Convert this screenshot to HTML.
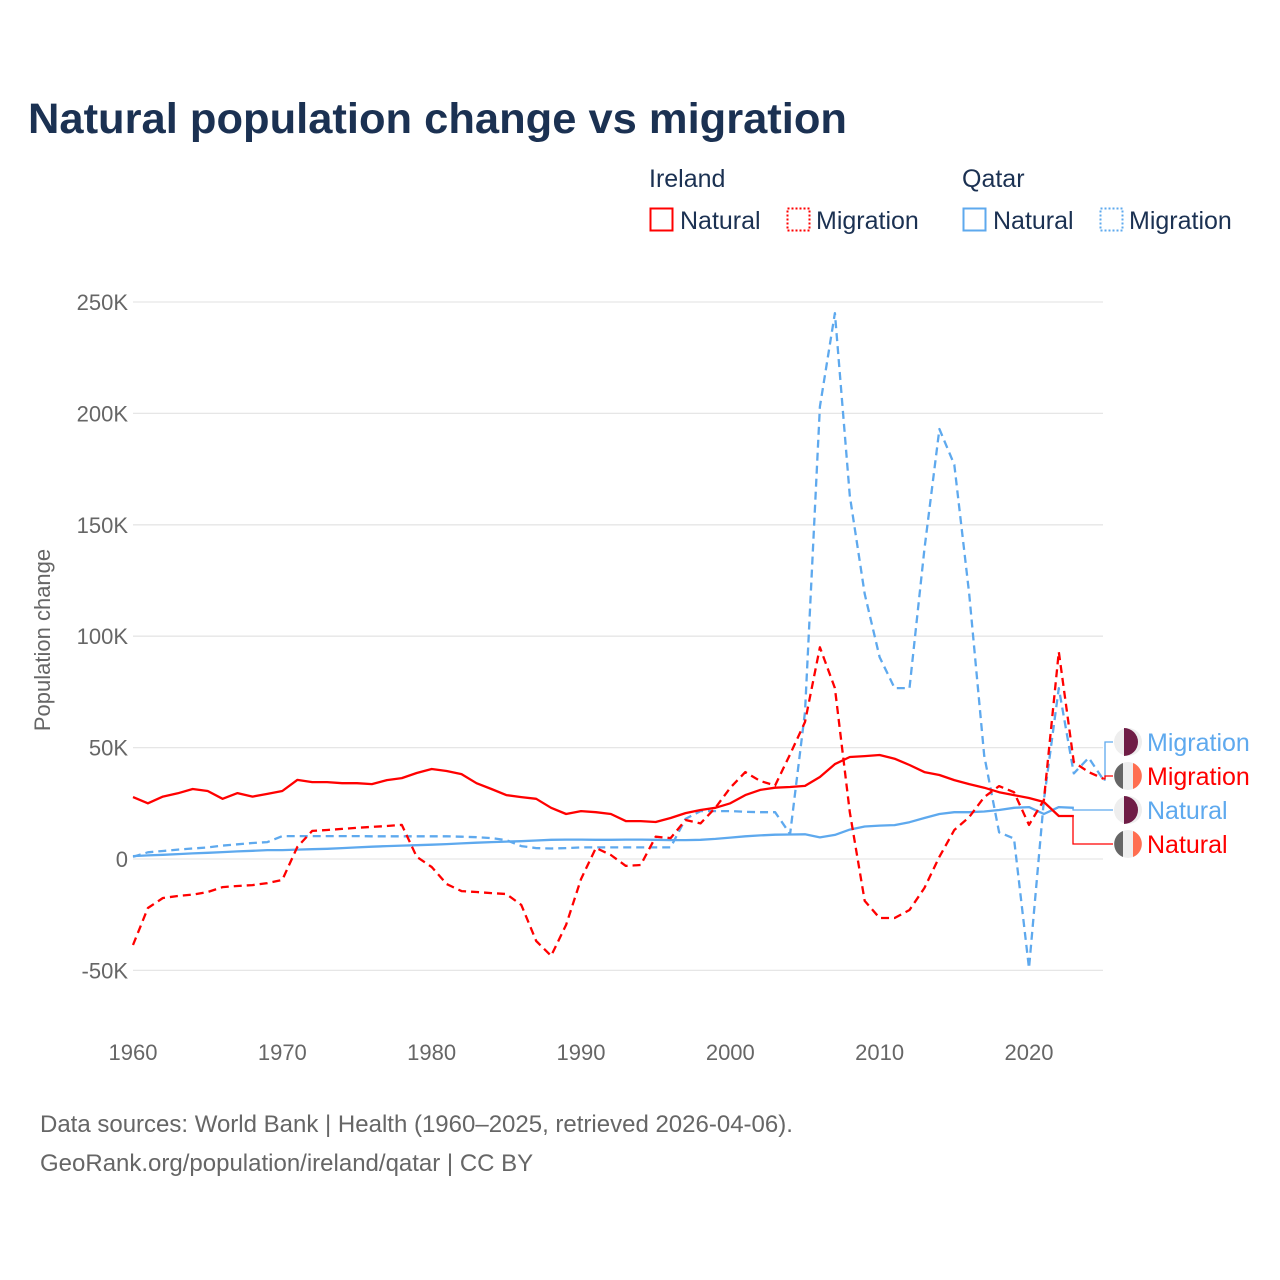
<!DOCTYPE html>
<html><head><meta charset="utf-8"><style>
body{margin:0;background:#fff;font-family:"Liberation Sans",sans-serif}
#wrap{position:relative;width:1280px;height:1280px;overflow:hidden}
</style></head><body>
<div id="wrap">
<svg id="chart" width="1280" height="1280" xmlns="http://www.w3.org/2000/svg">
<text x="28" y="133" font-size="43" font-weight="bold" fill="#1b3152" textLength="819" lengthAdjust="spacingAndGlyphs">Natural population change vs migration</text>
<g font-size="25" fill="#1b3152">
<text x="649" y="187">Ireland</text>
<text x="962" y="187">Qatar</text>
<g><rect x="650.5" y="208.5" width="22" height="22" fill="none" stroke="#ff0000" stroke-width="2"/><text x="680" y="229">Natural</text></g>
<g><rect x="787.5" y="208.5" width="22" height="22" fill="none" stroke="#ff0000" stroke-width="2" stroke-dasharray="2,2"/><text x="816" y="229">Migration</text></g>
<g><rect x="963.5" y="208.5" width="22" height="22" fill="none" stroke="#5ea9ee" stroke-width="2"/><text x="993" y="229">Natural</text></g>
<g><rect x="1100.5" y="208.5" width="22" height="22" fill="none" stroke="#5ea9ee" stroke-width="2" stroke-dasharray="2,2"/><text x="1129" y="229">Migration</text></g>
</g>
<g id="grid"></g>
<g id="yticks" font-size="22" fill="#666" text-anchor="end"></g>
<g id="xticks" font-size="22" fill="#666" text-anchor="middle"></g>
<text transform="translate(50,640) rotate(-90)" font-size="22" fill="#666" text-anchor="middle">Population change</text>
<g id="series"></g>
<g id="labels" font-size="25"></g>
<text x="40" y="1132" font-size="24" fill="#666">Data sources: World Bank | Health (1960–2025, retrieved 2026-04-06).</text>
<text x="40" y="1171" font-size="24" fill="#666">GeoRank.org/population/ireland/qatar | CC BY</text>
</svg>
</div>
<script>
const startYear = 1960;
const yTicks = [-50, 0, 50, 100, 150, 200, 250];
const yTickLabels = ["-50K", "0", "50K", "100K", "150K", "200K", "250K"];
const xTicks = [1960, 1970, 1980, 1990, 2000, 2010, 2020];
const irelandNatural = [27.8,25,28,29.5,31.4,30.5,27,29.6,28,29.2,30.5,35.5,34.5,34.5,34,34,33.6,35.4,36.3,38.6,40.4,39.5,38.1,34,31.4,28.7,27.8,27,23,20.2,21.5,21,20.2,17,17,16.6,18.4,20.6,22,23,25,28.7,31,32,32.3,32.8,36.8,42.6,45.8,46.2,46.7,45,42.2,39,37.7,35.4,33.6,32,30,28.7,27.4,25.6,19.3,19.3];
const irelandMigration = [-38.6,-22,-17.5,-16.6,-16,-14.8,-12.6,-12.1,-11.7,-10.8,-9.4,5.4,12.6,13,13.5,14,14.4,14.8,15.3,1,-3.6,-11.2,-14.4,-14.8,-15.3,-15.7,-20.6,-36.8,-43.5,-29.6,-9,5,1.8,-3.1,-2.7,10,9.4,17.5,16,23,32,39,35,33,47,61.5,95,76.7,21,-18.8,-26.5,-26.5,-22.9,-13,1,13,18.8,27.8,32.7,30,15.3,26.5,93,43.5,39,36];
const qatarNatural = [1.3,1.6,1.9,2.2,2.5,2.8,3.1,3.4,3.7,4,4,4.2,4.4,4.6,4.9,5.2,5.5,5.8,6,6.2,6.4,6.7,7,7.3,7.6,7.8,8,8.3,8.6,8.7,8.7,8.6,8.6,8.7,8.7,8.6,8.5,8.5,8.6,9,9.6,10.2,10.6,10.9,11,11.1,9.7,10.8,13.2,14.6,15,15.2,16.5,18.4,20.2,21,21,21.3,22,23,23.3,20.2,23.3,23];
const qatarMigration = [1,3,3.6,4.2,4.7,5.2,6,6.6,7.2,7.6,10.3,10.3,10.3,10.3,10.3,10.3,10.2,10.2,10.2,10.2,10.2,10.2,10,9.8,9.4,8.5,5.8,4.9,4.7,4.9,5.2,5.2,5.2,5.2,5.2,5.2,5.2,18,21.5,21.5,21.5,21.2,21,21,11.2,66,203,245,163,119,90.6,76.7,76.7,139,193,177,119,46.4,12,9.2,-49,26.5,76.7,38.4,45.4,35.4];
const NS='http://www.w3.org/2000/svg';
const X0=133, PX_YEAR=14.933, Y0=859, PX_K=2.228;
function xs(i){return X0+i*PX_YEAR;}
function yv(v){return Y0-v*PX_K;}
function mk(tag,attrs,parent){const e=document.createElementNS(NS,tag);for(const k in attrs)e.setAttribute(k,attrs[k]);parent.appendChild(e);return e;}
const grid=document.getElementById('grid'), yt=document.getElementById('yticks'), xt=document.getElementById('xticks');
yTicks.forEach((v,i)=>{
  const l=mk('line',{x1:133,x2:1103,y1:yv(v),y2:yv(v),stroke:'#e6e6e6','stroke-width':1.3},grid);
  
  
  const t=mk('text',{x:128,y:yv(v)+8},yt);t.textContent=yTickLabels[i];
  
  
});
xTicks.forEach(yr=>{
  const t=mk('text',{x:xs(yr-startYear),y:1060},xt);t.textContent=yr;
  
  
});
const ser=document.getElementById('series');
function line(data,color,dash,name){
  const pts=data.map((v,i)=>xs(i).toFixed(1)+','+yv(v).toFixed(1)).join(' ');
  const p=mk('polyline',{points:pts,fill:'none',stroke:color,'stroke-width':2.3,'stroke-linejoin':'round'},ser);
  if(dash)p.setAttribute('stroke-dasharray','8,5');
  
  
}
line(qatarNatural,'#5ea9ee',false,'line-qatar-natural');
line(qatarMigration,'#5ea9ee',true,'line-qatar-migration');
line(irelandNatural,'#ff0000',false,'line-ireland-natural');
line(irelandMigration,'#ff0000',true,'line-ireland-migration');
const lab=document.getElementById('labels');
const ends=[
 {d:qatarMigration,c:'#5ea9ee',ly:742,t:'Migration',q:true,n:'end-label-qatar-migration'},
 {d:irelandMigration,c:'#ff0000',ly:776,t:'Migration',q:false,n:'end-label-ireland-migration'},
 {d:qatarNatural,c:'#5ea9ee',ly:810,t:'Natural',q:true,n:'end-label-qatar-natural'},
 {d:irelandNatural,c:'#ff0000',ly:844,t:'Natural',q:false,n:'end-label-ireland-natural'}];
ends.forEach(e=>{
  const g=mk('g',{},lab);
  
  
  const i=e.d.length-1, x=xs(i), y=yv(e.d[i]);
  const kx = i<65 ? 1073 : 1105;
  mk('polyline',{points:`${x},${y} ${kx},${y} ${kx},${e.ly} 1113,${e.ly}`,fill:'none',stroke:e.c,'stroke-width':1.3},g);
  const cx=1128;
  mk('circle',{cx:cx,cy:e.ly,r:14,fill:'#eee'},g);
  if(e.q){mk('path',{d:`M${cx-4},${e.ly-14} A14,14 0 0 1 ${cx-4},${e.ly+14} Z`,fill:'#6f1d46'},g);mk('rect',{x:cx-4,y:e.ly-12,width:6,height:24,fill:'#6f1d46'},g);}
  else{mk('path',{d:`M${cx-5},${e.ly-13} A14,14 0 0 0 ${cx-5},${e.ly+13} Z`,fill:'#666'},g);mk('path',{d:`M${cx+5},${e.ly-13} A14,14 0 0 1 ${cx+5},${e.ly+13} Z`,fill:'#ff6e50'},g);}
  const t=mk('text',{x:1147,y:e.ly+9,fill:e.c},g);t.textContent=e.t;
});
</script>
</body></html>
